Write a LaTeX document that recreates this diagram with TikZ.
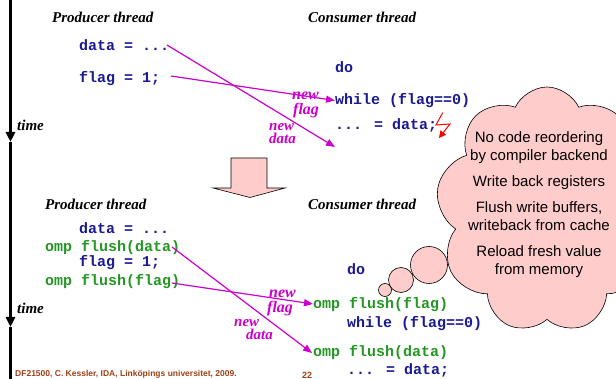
\documentclass[tikz,border=0pt]{standalone}
\usepackage{fontspec}
\setmainfont{Liberation Serif}
\newfontfamily\codefont{Liberation Mono}
\newfontfamily\sansf{Liberation Sans}
\usetikzlibrary{arrows.meta,shapes.symbols}
\definecolor{codeblue}{RGB}{25,25,145}
\definecolor{codegreen}{RGB}{35,150,35}
\definecolor{mag}{RGB}{204,0,204}
\definecolor{cloudpink}{RGB}{255,204,204}
\definecolor{footbrown}{RGB}{160,64,20}
\tikzset{
  code/.style={anchor=west,inner sep=0pt,font=\codefont\bfseries\fontsize{15}{15}\selectfont,text=codeblue},
  omp/.style={code,text=codegreen},
  head/.style={anchor=west,inner sep=0pt,font=\bfseries\itshape\fontsize{15}{15}\selectfont},
  lbl/.style={anchor=north west,inner sep=0pt,align=left,font=\bfseries\itshape\fontsize{16}{12.5}\selectfont,text=mag},
  msg/.style={mag,line width=1.2pt,-{Triangle[length=9pt,width=7pt]}},
  timeax/.style={line width=2.5pt},
  timetip/.style={timeax,-{Triangle[length=10pt,width=9pt]}},
  foot/.style={anchor=west,inner sep=0pt,font=\sansf\bfseries\fontsize{8.5}{9}\selectfont,text=footbrown},
}
\begin{document}
\begin{tikzpicture}[x=1pt,y=-1pt]
\useasboundingbox (0,0) rectangle (616,379);
\begin{scope}
\clip (0,0) rectangle (616,379);
% time axis
\coordinate (t0) at (10.5,-2);
\coordinate (t1) at (10.5,142);
\coordinate (t2) at (10.5,327);
\coordinate (t3) at (10.5,381);
\draw[timetip] (t0) -- (t1);
\draw[timetip] (t1) -- (t2);
\draw[timeax] (t2) -- (t3);
\node[head] (time1) at (17,125) {time};
\node[head] (time2) at (17,308) {time};

% thought bubbles and cloud
\draw[fill=cloudpink,line width=0.6pt] (385,290) circle (6.5);
\draw[fill=cloudpink,line width=0.6pt] (401,280) circle (12.5);
\draw[fill=cloudpink,line width=0.6pt] (429,265) circle (18.5);
\node[cloud,cloud puffs=9,cloud puff arc=130,cloud ignores aspect,draw,line width=0.6pt,fill=cloudpink,
      minimum width=222pt,minimum height=246pt] (cloud) at (547,210) {};
\node[align=center,inner sep=0pt,font=\sansf\fontsize{15}{18}\selectfont] (ctext) at (539,205)
  {No code reordering\\by compiler backend\\[8pt]Write back registers\\[8pt]Flush write buffers,\\writeback from cache\\[8pt]Reload fresh value\\from memory};

% top part
\node[head] (prod1) at (52,17) {Producer thread};
\node[head] (cons1) at (308,17) {Consumer thread};
\node[code] (pdata1) at (79,45) {data = ...};
\node[code] (pflag1) at (79,79) {flag = 1;};
\node[code] (cdo1) at (335,67) {do};
\node[code] (cwhile1) at (335,101) {while (flag==0)};
\node[code] (cread1) at (335,125) {... = data;};

\coordinate (a1s) at (167,45);
\coordinate (a1e) at (335,147);
\coordinate (a2s) at (171,76);
\coordinate (a2e) at (335,100.5);
\draw[msg] (a1s) -- (a1e);
\draw[msg] (a2s) -- (a2e);
\node[lbl,font=\bfseries\itshape\fontsize{16}{15}\selectfont] (nf1) at (292,92) {new\\\hspace*{1pt}flag};
\node[lbl,font=\bfseries\itshape\fontsize{15}{13.5}\selectfont] (nd1) at (269,123) {new\\data};

% lightning
\coordinate (l1) at (442.7,112.7);
\coordinate (l2) at (436,125);
\coordinate (l3) at (450,124);
\coordinate (l4) at (439,138);
\draw[red,line width=1pt,-{Triangle[length=7pt,width=7pt]}] (l1) -- (l2) -- (l3) -- (l4);

% block arrow
\draw[fill=cloudpink,line width=0.6pt] (231,158) -- (267,158) -- (267,188) -- (285,188)
  -- (250,197.5) -- (213,188) -- (231,188) -- cycle;

% bottom part
\node[head] (prod2) at (45,204) {Producer thread};
\node[head] (cons2) at (308,204) {Consumer thread};
\node[code] (pdata2) at (79,228) {data = ...};
\node[omp] (pfd2) at (45,248) {omp flush(data)};
\node[code] (pflag2) at (79,263) {flag = 1;};
\node[omp] (pff2) at (45,282) {omp flush(flag)};
\node[code] (cdo2) at (347,269) {do};
\node[omp] (cff2) at (313,305) {omp flush(flag)};
\node[code] (cwhile2) at (347,324) {while (flag==0)};
\node[omp] (cfd2) at (313,353) {omp flush(data)};
\node[code] (cread2) at (347,370) {... = data;};

\coordinate (b1s) at (172,247);
\coordinate (b1e) at (312,353);
\coordinate (b2s) at (172,283);
\coordinate (b2e) at (313,304);
\draw[msg] (b1s) -- (b1e);
\draw[msg] (b2s) -- (b2e);
\node[lbl,font=\bfseries\itshape\fontsize{16}{15}\selectfont] (nf2) at (267,290) {\hspace*{2pt}new\\flag};
\node[lbl,font=\bfseries\itshape\fontsize{15}{13.5}\selectfont] (nd2) at (234,319) {new\\\hspace*{12pt}data};

% footer
\node[foot] (footer) at (15,374) {DF21500, C. Kessler, IDA, Linköpings universitet, 2009.};
\node[foot,font=\sansf\bfseries\fontsize{9}{9}\selectfont] (pnum) at (302,375) {22};
\end{scope}
\end{tikzpicture}
\end{document}
